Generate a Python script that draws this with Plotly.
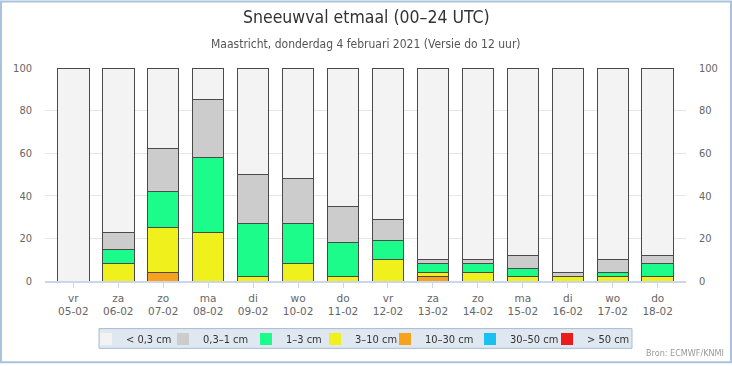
import plotly.graph_objects as go

days = ["vr", "za", "zo", "ma", "di", "wo", "do", "vr", "za", "zo", "ma", "di", "wo", "do"]
dates = ["05-02", "06-02", "07-02", "08-02", "09-02", "10-02", "11-02",
         "12-02", "13-02", "14-02", "15-02", "16-02", "17-02", "18-02"]

lt_03 = [100, 77, 38, 15, 50, 52, 65, 71, 90, 90, 88, 96, 90, 88]
c03_1 = [0, 8, 20, 27, 23, 21, 17, 10, 2, 2, 6, 2, 6, 4]
c1_3 = [0, 7, 17, 35, 25, 19, 16, 9, 4, 4, 4, 0, 2, 6]
c3_10 = [0, 8, 21, 23, 2, 8, 2, 10, 2, 4, 2, 2, 2, 2]
c10_30 = [0, 0, 4, 0, 0, 0, 0, 0, 2, 0, 0, 0, 0, 0]
c30_50 = [0, 0, 0, 0, 0, 0, 0, 0, 0, 0, 0, 0, 0, 0]
gt_50 = [0, 0, 0, 0, 0, 0, 0, 0, 0, 0, 0, 0, 0, 0]

# bottom-to-top stacking order
series_names = ["> 50 cm", "30–50 cm", "10–30 cm", "3–10 cm", "1–3 cm", "0,3–1 cm", "< 0,3 cm"]
series_vals = [gt_50, c30_50, c10_30, c3_10, c1_3, c03_1, lt_03]
series_cols = ["#ee1b1b", "#1ac0f2", "#f7a21c", "#eff01c", "#1cfc8a", "#cccccc", "#f3f3f3"]
# left pixel position of each legend entry (same order as series_names)
legend_px = [547, 470, 385, 315, 246, 163, 86]

yticks = [0, 20, 40, 60, 80, 100]
ticktext = [f"{d}<br>{dt}" for d, dt in zip(days, dates)]
xs = list(range(len(days)))

FONT = "DejaVu Sans Condensed, Liberation Sans Narrow, DejaVu Sans, sans-serif"

L, R, T, B = 45, 46, 68, 83
W, H = 732, 366
pw, ph = W - L - R, H - T - B
LEG_Y = (283 - 341.5) / ph

fig = go.Figure()
legends = {}
for i, (name, vals, col, lx) in enumerate(zip(series_names, series_vals, series_cols, legend_px)):
    key = "legend" if i == 0 else f"legend{i + 1}"
    # real stacked bars
    fig.add_trace(go.Bar(x=xs, y=vals, name=name, width=0.7, showlegend=False,
                         legendgroup=name,
                         marker=dict(color=col, line=dict(color="#4a4a4a", width=1))))
    # legend entry (borderless swatch)
    fig.add_trace(go.Bar(x=xs, y=[None] * len(xs), name=name, width=0.7, legend=key,
                         legendgroup=name, hoverinfo="skip",
                         marker=dict(color=col, line=dict(width=0))))
    legends[key] = dict(orientation="h", x=(lx - L) / pw, xanchor="left",
                        y=LEG_Y, yanchor="middle", bgcolor="rgba(0,0,0,0)", borderwidth=0,
                        font=dict(size=11, color="#333333", family=FONT), itemwidth=30)
fig.add_trace(go.Scatter(x=xs, y=lt_03, yaxis="y2", mode="markers", opacity=0,
                         showlegend=False, hoverinfo="skip"))

fig.update_layout(
    width=W, height=H, barmode="stack", bargap=0.3,
    margin=dict(l=L, r=R, t=T, b=B, pad=0),
    paper_bgcolor="white", plot_bgcolor="white",
    font=dict(family=FONT, color="#666666", size=11),
    xaxis=dict(range=[-0.63, 13.63], tickvals=xs, ticktext=ticktext,
               showgrid=False, showline=True, linecolor="#ccd6eb", linewidth=2,
               ticks="outside", ticklen=5, tickcolor="#ccd6eb", ticklabelstandoff=1,
               tickfont=dict(size=10.5, color="#666666", family="DejaVu Sans, sans-serif"),
               zeroline=False),
    yaxis=dict(range=[0, 100], tickvals=yticks, showgrid=True, gridcolor="#e6e6e6",
               zeroline=False, showline=False, ticks="", ticklabelstandoff=12,
               tickfont=dict(size=11, color="#666666")),
    yaxis2=dict(range=[0, 100], tickvals=yticks, overlaying="y", side="right",
                showgrid=False, zeroline=False, showline=False, ticks="", ticklabelstandoff=12,
                tickfont=dict(size=11, color="#666666")),
    showlegend=True,
    annotations=[
        dict(text="Sneeuwval etmaal (00–24 UTC)", xref="paper", yref="paper",
             x=(366 - L) / pw, y=(283 - 17) / ph, xanchor="center", yanchor="middle",
             showarrow=False, font=dict(size=17.5, color="#333333", family=FONT)),
        dict(text="Maastricht, donderdag 4 februari 2021 (Versie do 12 uur)", xref="paper", yref="paper",
             x=(366 - L) / pw, y=(283 - 44) / ph, xanchor="center", yanchor="middle",
             showarrow=False, font=dict(size=12, color="#555555", family=FONT)),
        dict(text="Bron: ECMWF/KNMI", xref="paper", yref="paper",
             x=(726 - L) / pw, y=(283 - 356) / ph, xanchor="right", yanchor="middle",
             showarrow=False, font=dict(size=9, color="#999999", family=FONT)),
    ],
    shapes=[
        dict(type="rect", xref="paper", yref="paper",
             x0=(99 - L) / pw, x1=(632 - L) / pw, y0=(283 - 351) / ph, y1=(283 - 331) / ph,
             line=dict(color="#a9bdd4", width=1), fillcolor="#dfe7f1", layer="below"),
        dict(type="rect", xref="paper", yref="paper",
             x0=(1 - L) / pw, x1=(W - 1 - L) / pw, y0=(283 - (H - 1)) / ph, y1=(283 - 1) / ph,
             line=dict(color="#a9c3dc", width=2), fillcolor="rgba(0,0,0,0)", layer="above"),
    ],
)
fig.update_layout(**legends)

fig.write_html("out.html", config={"displayModeBar": False},
               post_script="document.body.style.margin='0';document.body.style.padding='0';")
